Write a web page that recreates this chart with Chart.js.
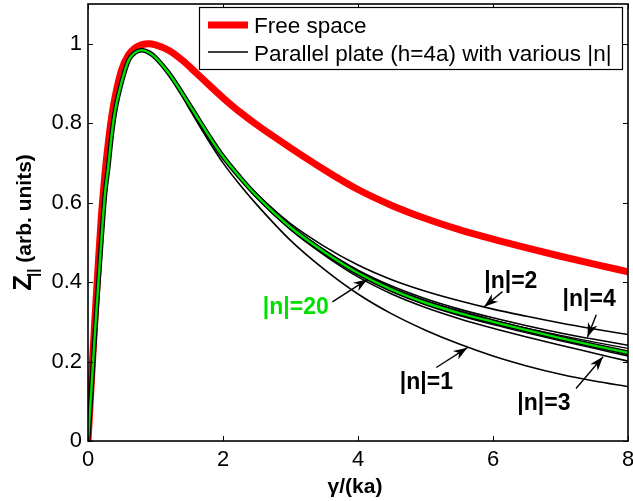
<!DOCTYPE html>
<html>
<head>
<meta charset="utf-8">
<script src="https://cdn.jsdelivr.net/npm/chart.js@4.4.1/dist/chart.umd.min.js"></script>
<style>
  html, body { margin: 0; padding: 0; background: #fff; overflow: hidden; }
  #wrap { width: 633px; height: 501px; }
</style>
</head>
<body>
<div id="wrap"><canvas id="chart" width="633" height="501"></canvas></div>
<script>
// gamma/(ka) sample points
const xs = [0, 0.05, 0.1, 0.15, 0.2, 0.25, 0.3, 0.35, 0.4, 0.5, 0.6, 0.7, 0.8, 0.9, 1.0,
            1.2, 1.4, 1.6, 1.8, 2.0, 2.25, 2.5, 3.0, 3.5, 4.0, 4.5, 5.0, 5.5, 6.0, 6.5, 7.0, 7.5, 8.0];

// Free space (red, thick)
const freeSpace = [0, 0.15, 0.30, 0.44, 0.57, 0.67, 0.75, 0.815, 0.865, 0.935, 0.972, 0.99, 0.998, 1.0, 0.997,
                   0.983, 0.958, 0.927, 0.895, 0.864, 0.828, 0.796, 0.738, 0.683, 0.633, 0.593, 0.560, 0.532, 0.508, 0.486, 0.465, 0.445, 0.426];

// Parallel plate (h=4a), various |n|
const n20 = [0, 0.13, 0.265, 0.39, 0.51, 0.62, 0.69, 0.77, 0.83, 0.905, 0.958, 0.978, 0.984, 0.978, 0.965,
             0.925, 0.874, 0.82, 0.766, 0.716, 0.664, 0.617, 0.538, 0.476, 0.423, 0.381, 0.348, 0.322, 0.300, 0.279, 0.259, 0.240, 0.222];
const n1  = [0, 0.13, 0.265, 0.39, 0.51, 0.62, 0.69, 0.77, 0.83, 0.905, 0.958, 0.978, 0.984, 0.978, 0.963,
             0.922, 0.866, 0.808, 0.752, 0.700, 0.645, 0.595, 0.505, 0.432, 0.370, 0.320, 0.279, 0.244, 0.214, 0.189, 0.168, 0.151, 0.137];
const n2  = [0, 0.13, 0.265, 0.39, 0.51, 0.62, 0.69, 0.77, 0.83, 0.905, 0.958, 0.978, 0.984, 0.978, 0.965,
             0.925, 0.874, 0.82, 0.766, 0.716, 0.666, 0.622, 0.547, 0.490, 0.443, 0.406, 0.377, 0.353, 0.332, 0.314, 0.297, 0.282, 0.268];
const n3  = [0, 0.13, 0.265, 0.39, 0.51, 0.62, 0.69, 0.77, 0.83, 0.905, 0.958, 0.978, 0.984, 0.978, 0.965,
             0.925, 0.874, 0.82, 0.766, 0.716, 0.664, 0.613, 0.532, 0.468, 0.413, 0.370, 0.336, 0.308, 0.284, 0.262, 0.241, 0.221, 0.201];
const n4  = [0, 0.13, 0.265, 0.39, 0.51, 0.62, 0.69, 0.77, 0.83, 0.905, 0.958, 0.978, 0.984, 0.978, 0.965,
             0.925, 0.874, 0.82, 0.766, 0.716, 0.665, 0.619, 0.542, 0.481, 0.430, 0.390, 0.358, 0.332, 0.310, 0.290, 0.272, 0.256, 0.241];
const n5  = [0, 0.13, 0.265, 0.39, 0.51, 0.62, 0.69, 0.77, 0.83, 0.905, 0.958, 0.978, 0.984, 0.978, 0.965,
             0.925, 0.874, 0.82, 0.766, 0.716, 0.664, 0.615, 0.535, 0.472, 0.418, 0.376, 0.343, 0.316, 0.293, 0.272, 0.252, 0.233, 0.214];
const n6  = [0, 0.13, 0.265, 0.39, 0.51, 0.62, 0.69, 0.77, 0.83, 0.905, 0.958, 0.978, 0.984, 0.978, 0.965,
             0.925, 0.874, 0.82, 0.766, 0.716, 0.665, 0.618, 0.540, 0.479, 0.427, 0.386, 0.354, 0.328, 0.305, 0.284, 0.266, 0.249, 0.233];

const xTicks = [0, 2, 4, 6, 8];
const yTicks = [0, 0.2, 0.4, 0.6, 0.8, 1];

const legendLabels = ['Free space', 'Parallel plate (h=4a) with various |n|'];

// annotation labels: text, colour, text anchor (data), arrow start and tip (data)
const notes = [
  { text: '|n|=20', color: '#00e000', tx: 2.59, ty: 0.320, ax: 3.62, ay: 0.350, bx: 4.14, by: 0.407 },
  { text: '|n|=2',  color: '#000',    tx: 5.87, ty: 0.386, ax: 6.14, ay: 0.376, bx: 5.87, by: 0.338 },
  { text: '|n|=4',  color: '#000',    tx: 7.03, ty: 0.340, ax: 7.53, ay: 0.318, bx: 7.40, by: 0.262 },
  { text: '|n|=1',  color: '#000',    tx: 4.62, ty: 0.132, ax: 5.16, ay: 0.185, bx: 5.62, by: 0.235 },
  { text: '|n|=3',  color: '#000',    tx: 6.36, ty: 0.079, ax: 7.23, ay: 0.132, bx: 7.63, by: 0.212 }
];

const FONT = '"Liberation Sans", Arial, sans-serif';
const GREEN = '#00e000';

function pts(ys) {
  return xs.map((x, i) => ({ x: x, y: ys[i] }));
}

function line(data, color, width, order) {
  return {
    data: pts(data), borderColor: color, borderWidth: width, pointRadius: 0,
    fill: false, cubicInterpolationMode: 'monotone', order: order
  };
}

function drawArrow(ctx, x0, y0, x1, y1) {
  ctx.beginPath();
  ctx.moveTo(x0, y0);
  ctx.lineTo(x1, y1);
  ctx.stroke();
  const a = Math.atan2(y1 - y0, x1 - x0), L = 14, W = 5;
  const c = Math.cos(a), s = Math.sin(a);
  ctx.beginPath();
  ctx.moveTo(x1, y1);
  ctx.lineTo(x1 - L * c + W * s, y1 - L * s - W * c);
  ctx.lineTo(x1 - 0.7 * L * c, y1 - 0.7 * L * s);
  ctx.lineTo(x1 - L * c - W * s, y1 - L * s + W * c);
  ctx.closePath();
  ctx.fill();
}

const matlabLook = {
  id: 'matlabLook',
  afterDatasetsDraw(chart) {
    const ctx = chart.ctx, a = chart.chartArea;
    const sx = chart.scales.x, sy = chart.scales.y;
    ctx.save();

    // annotations
    notes.forEach(n => {
      ctx.strokeStyle = '#000';
      ctx.fillStyle = '#000';
      ctx.lineWidth = 1.4;
      drawArrow(ctx, sx.getPixelForValue(n.ax), sy.getPixelForValue(n.ay),
                sx.getPixelForValue(n.bx), sy.getPixelForValue(n.by));
      ctx.fillStyle = n.color;
      ctx.font = 'bold 23px ' + FONT;
      ctx.textBaseline = 'alphabetic';
      ctx.textAlign = 'left';
      ctx.fillText(n.text, sx.getPixelForValue(n.tx), sy.getPixelForValue(n.ty));
    });

    // box and inward ticks
    ctx.strokeStyle = '#000';
    ctx.lineWidth = 1.6;
    ctx.strokeRect(a.left, a.top, a.right - a.left, a.bottom - a.top);
    ctx.lineWidth = 1;
    ctx.beginPath();
    xTicks.forEach(v => {
      const px = Math.round(sx.getPixelForValue(v)) + 0.5;
      ctx.moveTo(px, a.bottom); ctx.lineTo(px, a.bottom - 5);
      ctx.moveTo(px, a.top); ctx.lineTo(px, a.top + 5);
    });
    yTicks.forEach(v => {
      const py = Math.round(sy.getPixelForValue(v)) + 0.5;
      ctx.moveTo(a.left, py); ctx.lineTo(a.left + 5, py);
      ctx.moveTo(a.right, py); ctx.lineTo(a.right - 5, py);
    });
    ctx.stroke();

    // legend
    const lx = 199.5, ly = 7.5, lw = 423, lh = 62;
    ctx.fillStyle = '#fff';
    ctx.fillRect(lx, ly, lw, lh);
    ctx.lineWidth = 1.2;
    ctx.strokeRect(lx, ly, lw, lh);
    ctx.strokeStyle = '#ff0000';
    ctx.lineWidth = 7;
    ctx.beginPath(); ctx.moveTo(208, 25); ctx.lineTo(248, 25); ctx.stroke();
    ctx.strokeStyle = '#000';
    ctx.lineWidth = 1.6;
    ctx.beginPath(); ctx.moveTo(208, 52); ctx.lineTo(248, 52); ctx.stroke();
    ctx.fillStyle = '#000';
    ctx.font = '22.5px ' + FONT;
    ctx.textAlign = 'left';
    ctx.textBaseline = 'alphabetic';
    ctx.fillText(legendLabels[0], 254, 33);
    ctx.fillText(legendLabels[1], 254, 61);

    // x title
    ctx.font = 'bold 21px ' + FONT;
    ctx.textAlign = 'center';
    ctx.fillText('\u03b3/(ka)', 355, 493);

    // y title: Z with subscript ||
    const cy = (a.top + a.bottom) / 2;
    ctx.translate(31, cy);
    ctx.rotate(-Math.PI / 2);
    ctx.textAlign = 'left';
    const fZ = 'bold 26px ' + FONT, fSub = 'bold 15px ' + FONT, fRest = 'bold 21px ' + FONT;
    ctx.font = fZ; const wZ = ctx.measureText('Z').width;
    ctx.font = fSub; const wS = ctx.measureText('||').width;
    ctx.font = fRest; const wR = ctx.measureText(' (arb. units)').width;
    const total = wZ + wS + wR - 2;
    let x0 = -total / 2;
    ctx.font = fZ; ctx.fillText('Z', x0, 0);
    ctx.font = fSub; ctx.fillText('||', x0 + wZ - 2, 7);
    ctx.font = fRest; ctx.fillText(' (arb. units)', x0 + wZ + wS - 2, 0);

    ctx.restore();
  }
};

new Chart(document.getElementById('chart'), {
  type: 'line',
  data: {
    datasets: [
      line(n20, GREEN, 2.4, 1),
      line(n20, '#000', 4.8, 2),
      line(n1, '#000', 1.6, 3),
      line(n2, '#000', 1.6, 3),
      line(n3, '#000', 1.6, 3),
      line(n4, '#000', 1.6, 3),
      line(n5, '#000', 1.4, 3),
      line(n6, '#000', 1.4, 3),
      line(freeSpace, '#ff0000', 7, 10)
    ]
  },
  options: {
    responsive: false,
    animation: false,
    events: [],
    layout: { padding: { left: 52, right: 5, top: 4, bottom: 29 } },
    plugins: { legend: { display: false }, tooltip: { enabled: false } },
    scales: {
      x: {
        type: 'linear', min: 0, max: 8,
        afterBuildTicks: s => { s.ticks = xTicks.map(v => ({ value: v })); },
        ticks: { color: '#000', font: { family: FONT, size: 22 }, padding: 6, maxRotation: 0,
                 callback: v => String(v) },
        grid: { display: false, drawTicks: false },
        border: { display: false },
        afterFit: s => { s.height = 31; s.paddingLeft = 0; s.paddingRight = 0; }
      },
      y: {
        type: 'linear', min: 0, max: 1.1,
        afterBuildTicks: s => { s.ticks = yTicks.map(v => ({ value: v })); },
        ticks: { color: '#000', font: { family: FONT, size: 22 }, padding: 6,
                 callback: v => String(v) },
        grid: { display: false, drawTicks: false },
        border: { display: false },
        afterFit: s => { s.width = 36; s.paddingTop = 0; s.paddingBottom = 0; }
      }
    }
  },
  plugins: [matlabLook]
});
</script>
</body>
</html>
